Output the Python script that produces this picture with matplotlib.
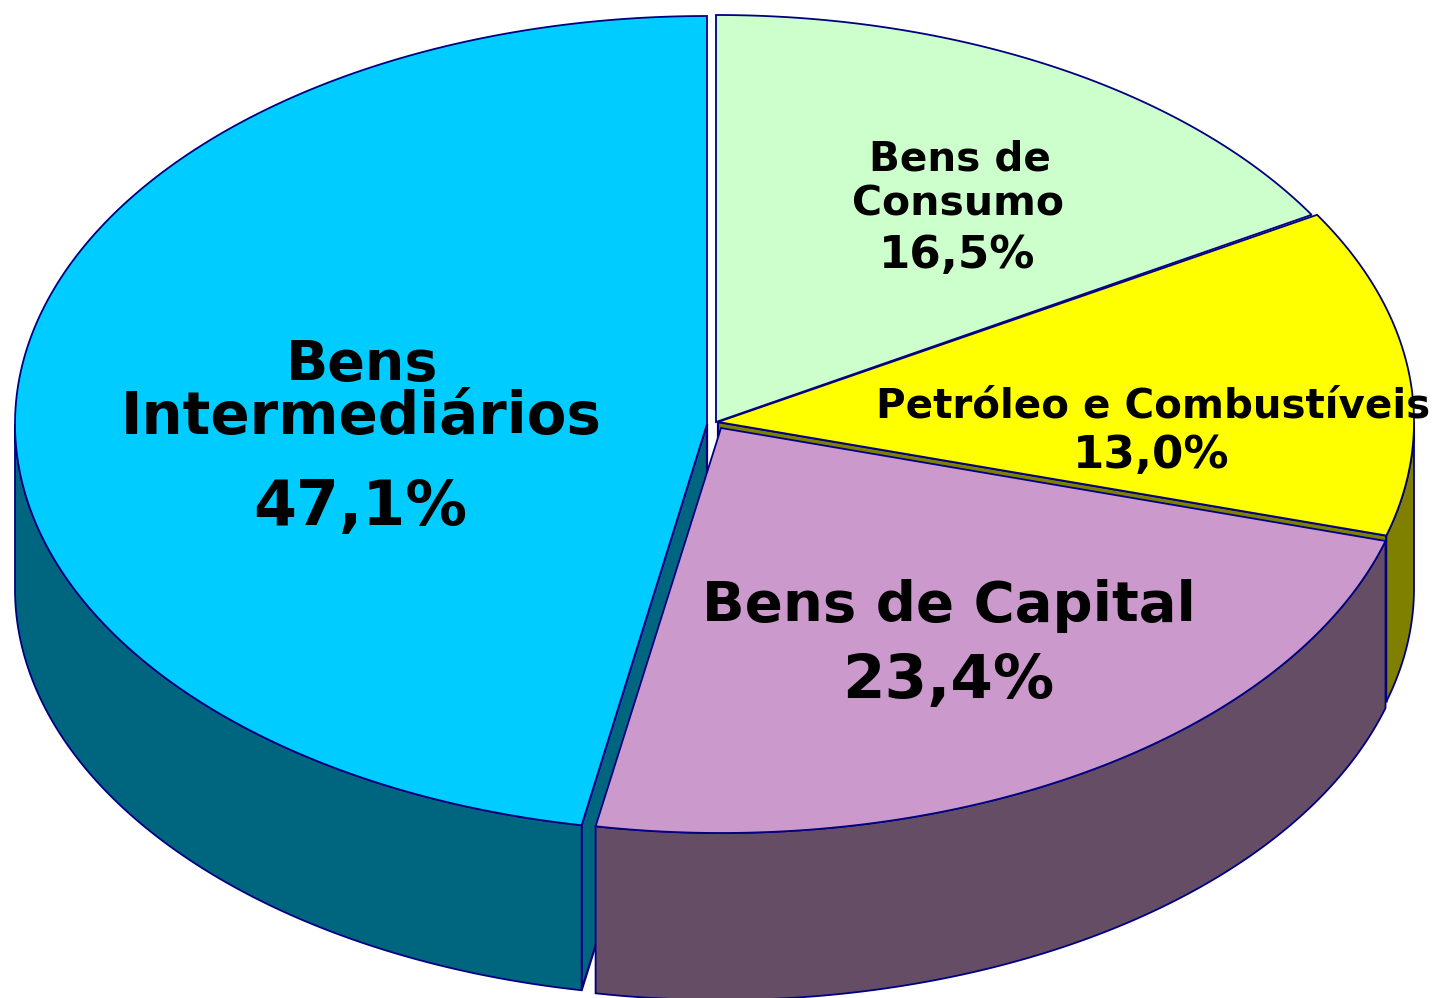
import numpy as np
import matplotlib
matplotlib.use("Agg")
import matplotlib.pyplot as plt
from matplotlib.patches import Polygon

names = ["Bens de Consumo", "Petróleo e Combustíveis", "Bens de Capital", "Bens Intermediários"]
shares = [16.5, 13.0, 23.4, 47.1]
top_colors = ["#CCFFCC", "#FFFF00", "#CC99CC", "#00CCFF"]
side_colors = ["#668066", "#808000", "#664D66", "#006680"]

centers = [(716, 422), (718, 422), (721, 428), (707, 424)]
radii_x = [692, 696, 692, 692]
radii_y = [407, 407, 405, 408]
DEPTH = [166, 166, 167, 165]
EDGE = "#000080"

text_lines = ["Bens de", "Consumo", "16,5%", "Petróleo e Combustíveis", "13,0%",
              "Bens de Capital", "23,4%", "Bens", "Intermediários", "47,1%"]
text_x = [960, 958, 957, 1153, 1151, 949, 948, 362, 361, 360]
text_base = [170, 215, 268, 417, 468, 621, 698, 380, 434, 525]
text_size = [29.2, 29.5, 32.5, 29.1, 32.5, 40.4, 44, 40, 41.7, 44.5]

fig = plt.figure(figsize=(14.37, 9.98), dpi=100)
ax = fig.add_axes([0, 0, 1, 1])
ax.set_xlim(0, 1437)
ax.set_ylim(998, 0)
ax.axis("off")


def arc(i, a0, a1, n=200):
    t = np.radians(np.linspace(a0, a1, n))
    cx, cy = centers[i]
    return np.column_stack([cx + radii_x[i] * np.sin(t), cy - radii_y[i] * np.cos(t)])


edges = np.concatenate([[0], np.cumsum(shares)]) * 360 / sum(shares)
order = [1, 3, 2, 0]


def end_face(i, angle, z):
    c = np.array(centers[i], float)
    p = arc(i, angle, angle, 1)[0]
    d = [0, DEPTH[i]]
    ax.add_patch(Polygon([c, p, p + d, c + d], fc=side_colors[i], ec=EDGE, lw=1.6, zorder=z))


# cut faces that look toward the viewer
end_face(1, edges[2], 1)
end_face(3, edges[3], 1)

# outer walls, front half only
for i in order:
    lo, hi = max(edges[i], 90), min(edges[i + 1], 270)
    if hi > lo:
        a = arc(i, lo, hi)
        b = a[::-1] + [0, DEPTH[i]]
        ax.add_patch(Polygon(np.vstack([a, b]), fc=side_colors[i], ec=EDGE,
                             lw=1.3, zorder=2 + (i == 2)))

# top surfaces
for i in order:
    c = np.array(centers[i], float)
    ax.add_patch(Polygon(np.vstack([c, arc(i, edges[i], edges[i + 1])]),
                         fc=top_colors[i], ec=EDGE, lw=1.3, zorder=4))

for s, x, y, size in zip(text_lines, text_x, text_base, text_size):
    ax.text(x, y, s, ha="center", va="baseline", fontsize=size, fontweight="bold",
            family="DejaVu Sans", color="black", zorder=6)

fig.savefig("out.png", dpi=100, facecolor="white")
